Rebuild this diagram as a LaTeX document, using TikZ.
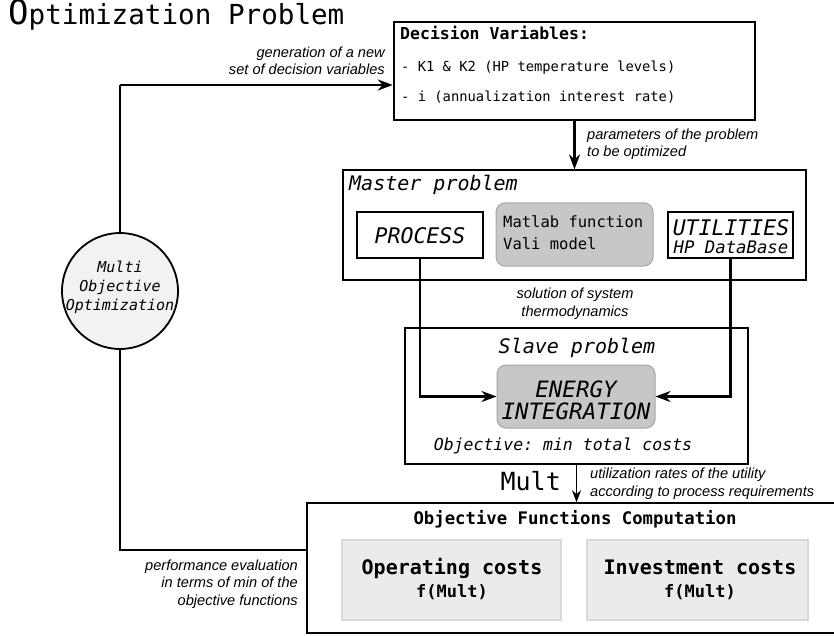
\documentclass[tikz,border=0pt]{standalone}
\usepackage{fontspec}
\setmainfont{Liberation Sans}
\setmonofont{DejaVu Sans Mono}
\usetikzlibrary{arrows.meta}

\newcommand{\fs}[1]{\fontsize{#1}{#1}\selectfont}

\tikzset{
  frame/.style={draw=black, line width=1.1pt, inner sep=0pt},
  boldframe/.style={draw=black, line width=2.5pt, inner sep=0pt},
  greybox/.style={draw=black!35, fill=black!22, line width=1pt, rounded corners=9pt, inner sep=0pt},
  costbox/.style={draw=black!15, fill=black!8, line width=1.2pt, inner sep=0pt},
  note/.style={font=\itshape\fontsize{14.6}{17.5}\selectfont, inner sep=0pt},
  wire/.style={line width=2.8pt, line join=miter},
  flow/.style={line width=2.8pt, -{Stealth[length=15pt,width=11pt]}},
  thinflow/.style={line width=1.6pt, -{Stealth[length=12pt,width=9pt]}},
  mono/.style={font=\ttfamily, inner sep=0pt},
  capline/.style={inner sep=0pt, text height=#1, text depth=0pt},
}

\begin{document}
\begin{tikzpicture}[x=1pt, y=-1pt]
\useasboundingbox (0,0) rectangle (834,636);

% title
\node[mono, anchor=base west] (title) at (8,25)
  {{\fs{34}O}{\fs{27.6}ptimization Problem}};

% decision variables
\node[boldframe, minimum width=361pt, minimum height=98pt] (dec) at (574.5,71) {};
\node[mono, anchor=base west, font=\ttfamily\bfseries\fs{16.5}] (dech) at (400,40) {Decision Variables:};
\node[mono, anchor=base west, font=\ttfamily\fs{13.8}] (decA) at (401,72) {- K1 \& K2 (HP temperature levels)};
\node[mono, anchor=base west, font=\ttfamily\fs{13.8}] (decB) at (401,102) {- i (annualization interest rate)};

% master problem
\node[frame, minimum width=463pt, minimum height=110pt] (master) at (574.5,225) {};
\node[mono, anchor=base west, font=\ttfamily\itshape\fs{20}] (masterh) at (349,191) {Master problem};
\node[frame, minimum width=126pt, minimum height=46pt] (proc) at (420,235) {};
\node[mono, anchor=base, font=\ttfamily\itshape\fs{21.5}] (proct) at (420,243) {PROCESS};
\node[greybox, minimum width=157pt, minimum height=63pt] (matlab) at (574.5,234.5) {};
\node[mono, anchor=base west, font=\ttfamily\fs{15.5}] (matA) at (503,227) {Matlab function};
\node[mono, anchor=base west, font=\ttfamily\fs{15.5}] (matB) at (503,249) {Vali model};
\node[frame, minimum width=125pt, minimum height=46pt] (util) at (730.5,235) {};
\node[capline=15pt, anchor=base, font=\ttfamily\itshape\fs{21.5}] (utilA) at (731,236) {UTILITIES};
\node[capline=12pt, anchor=base, font=\ttfamily\itshape\fs{17.3}] (utilB) at (731,253) {HP DataBase};

% slave problem
\node[frame, line width=1.4pt, minimum width=343pt, minimum height=136pt] (slave) at (576.5,396) {};
\node[mono, anchor=base, font=\ttfamily\itshape\fs{20}] (slaveh) at (577,353) {Slave problem};
\node[greybox, minimum width=158pt, minimum height=63pt] (energy) at (576,396.5) {};
\node[capline=16pt, anchor=base, font=\ttfamily\itshape\fs{22.5}] (enA) at (576,397) {ENERGY};
\node[capline=16pt, anchor=base, font=\ttfamily\itshape\fs{22.5}] (enB) at (576,419) {INTEGRATION};
\node[mono, anchor=base, font=\ttfamily\itshape\fs{16.5}] (slaveobj) at (563,450) {Objective: min total costs};

% objective functions computation
\node[frame, line width=1.5pt, minimum width=532pt, minimum height=130pt] (obj) at (573,568) {};
\node[mono, anchor=base, font=\ttfamily\bfseries\fs{17.3}] (objh) at (575,524) {Objective Functions Computation};
\node[costbox, minimum width=219pt, minimum height=80pt] (opc) at (451.5,580) {};
\node[mono, anchor=base, font=\ttfamily\bfseries\fs{20}] (opcA) at (452,574) {Operating costs};
\node[mono, anchor=base, font=\ttfamily\bfseries\fs{17}] (opcB) at (452,597) {f(Mult)};
\node[costbox, minimum width=221pt, minimum height=80pt] (inv) at (697.5,580) {};
\node[mono, anchor=base, font=\ttfamily\bfseries\fs{20}] (invA) at (700,574) {Investment costs};
\node[mono, anchor=base, font=\ttfamily\bfseries\fs{17}] (invB) at (700,597) {f(Mult)};

% multi objective optimizer
\node[circle, draw=black, line width=1.8pt, fill=black!5, minimum size=116pt, inner sep=0pt] (moo) at (120,291) {};
\node[mono, anchor=base, font=\ttfamily\itshape\fs{15}] (mooA) at (120,272) {Multi};
\node[mono, anchor=base, font=\ttfamily\itshape\fs{15}] (mooB) at (120,291) {Objective};
\node[mono, anchor=base, font=\ttfamily\itshape\fs{15}] (mooC) at (120,310) {Optimization};

% connectors
\coordinate (fbTop) at (120,85);
\coordinate (fbBot) at (120,550);
\draw[wire] (moo.north) -- (fbTop);
\draw[flow] (fbTop) -- (dec.west |- fbTop);
\draw[wire] (moo.south) -- (fbBot) -- (obj.west |- fbBot);

\draw[flow] (dec.south) -- (master.north);
\draw[flow] (proc.south) |- (energy.west);
\draw[flow] (util.south) |- (energy.east);
\draw[thinflow] (slave.south) -- (slave.south |- obj.north);

% connector labels
\node[note, align=right, anchor=base east] (lblgen) at (385,75) {generation of a new\\set of decision variables};
\node[note, align=left, anchor=base west] (lblpar) at (587,157) {parameters of the problem\\to be optimized};
\node[note, align=center, anchor=base] (lblsol) at (575,316) {solution of system\\thermodynamics};
\node[note, align=left, anchor=base west] (lblutil) at (590,496) {utilization rates of the utility\\according to process requirements};
\node[mono, font=\ttfamily\fs{25}, anchor=base east] (lblmult) at (561,490) {Mult};
\node[note, align=right, anchor=base east] (lblperf) at (298,605) {performance evaluation\\in terms of min of the\\objective functions};

\end{tikzpicture}
\end{document}
